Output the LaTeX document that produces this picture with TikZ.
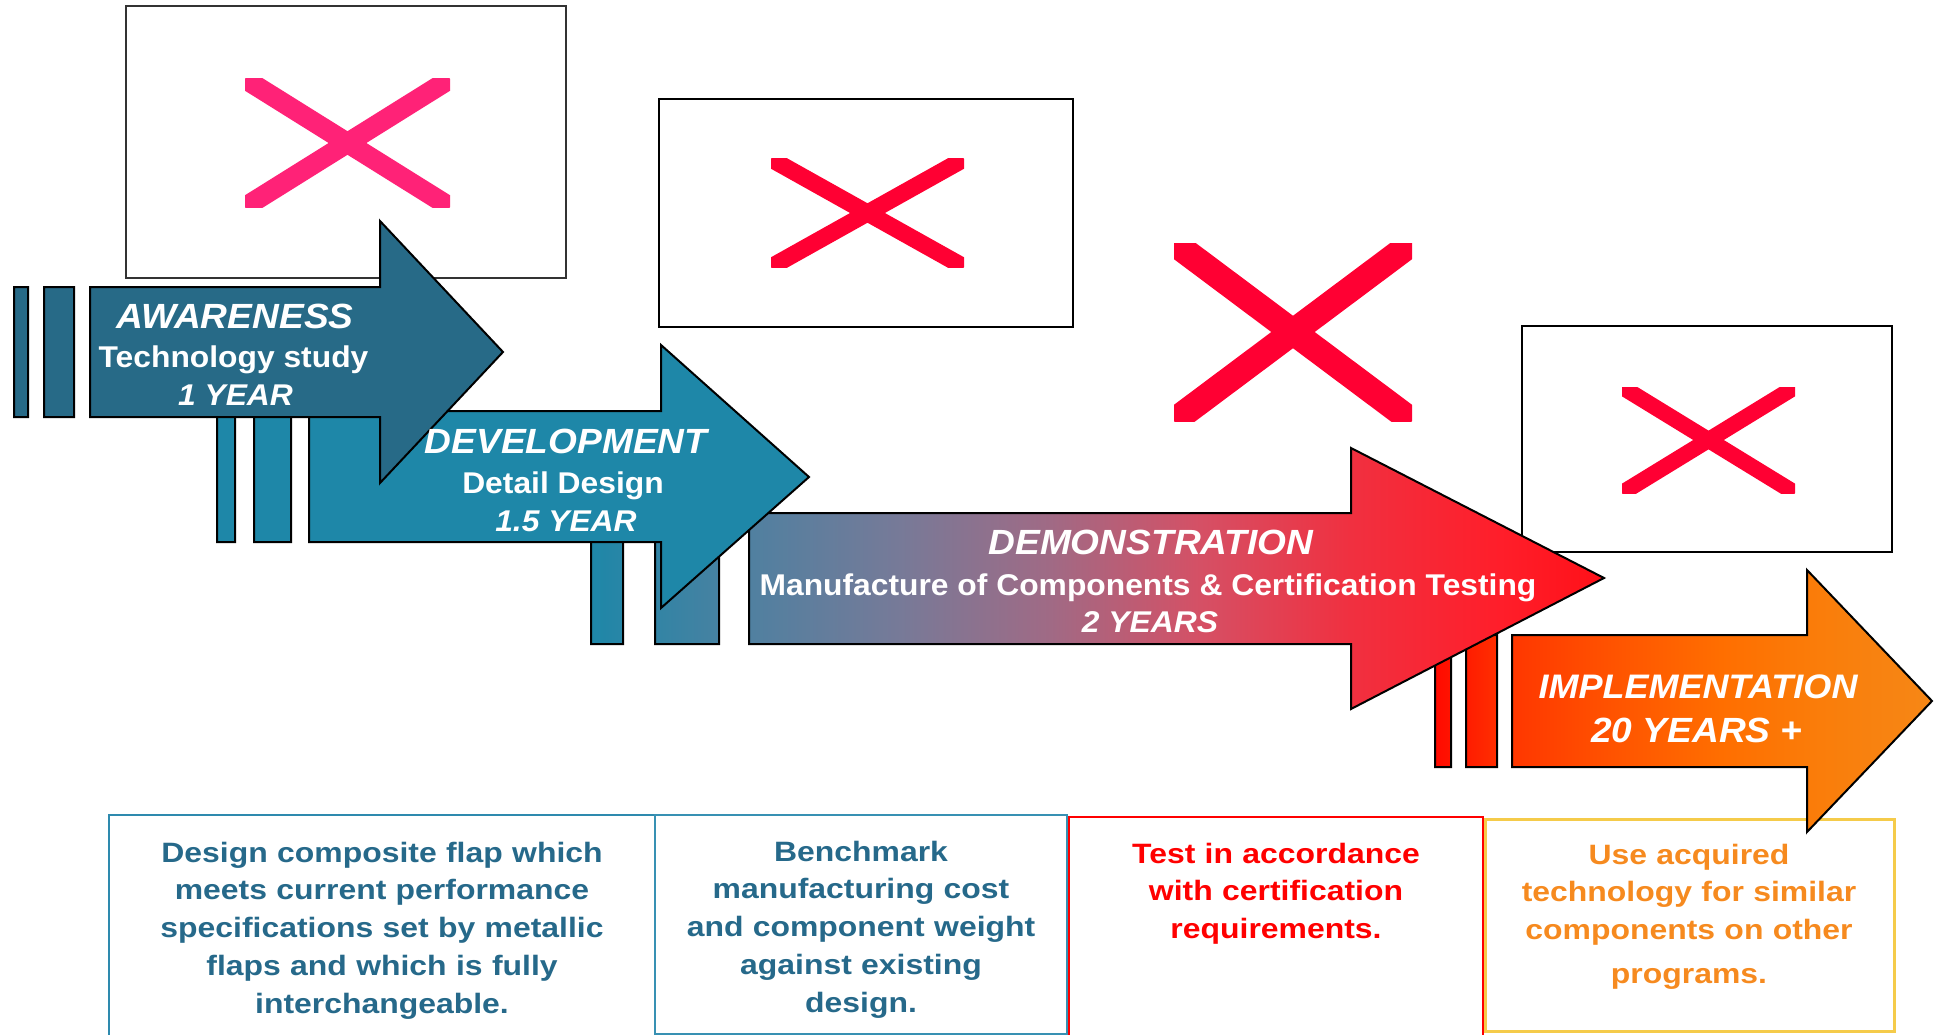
\documentclass[tikz,border=0pt]{standalone}
\usepackage{fontspec}
\setmainfont{Liberation Sans}
\newfontfamily\arrowfont{Liberation Sans}[FakeStretch=1.06]
\newfontfamily\boxfont{Liberation Sans}[FakeStretch=1.14]

\definecolor{aone}{RGB}{39,106,135}
\definecolor{atwo}{RGB}{30,135,168}
\definecolor{dA}{RGB}{30,135,168}
\definecolor{dB}{RGB}{80,128,160}
\definecolor{dC}{RGB}{119,122,152}
\definecolor{dD}{RGB}{160,106,133}
\definecolor{dE}{RGB}{213,80,101}
\definecolor{dF}{RGB}{240,48,64}
\definecolor{dG}{RGB}{255,30,42}
\definecolor{dH}{RGB}{255,16,24}
\definecolor{iA}{RGB}{255,10,0}
\definecolor{iB}{RGB}{255,28,0}
\definecolor{iC}{RGB}{255,55,0}
\definecolor{iD}{RGB}{255,85,0}
\definecolor{iE}{RGB}{255,110,0}
\definecolor{iF}{RGB}{250,125,10}
\definecolor{iG}{RGB}{246,135,22}
\definecolor{pinkx}{RGB}{255,34,119}
\definecolor{redx}{RGB}{255,0,51}
\definecolor{bluetxt}{RGB}{38,105,138}
\definecolor{blueline}{RGB}{46,138,174}
\definecolor{blueline2}{RGB}{56,145,179}
\definecolor{redtxt}{RGB}{255,0,0}
\definecolor{orangetxt}{RGB}{246,138,31}
\definecolor{yellowline}{RGB}{245,203,74}

\pgfdeclarehorizontalshading{demoshade}{100bp}{color(0bp)=(dA); color(25bp)=(dA); color(32.85bp)=(dB); color(40.25bp)=(dC); color(47.65bp)=(dD); color(55.06bp)=(dE); color(62.46bp)=(dF); color(69.87bp)=(dG); color(75bp)=(dH); color(100bp)=(dH)}
\pgfdeclarehorizontalshading{implshade}{100bp}{color(0bp)=(iA); color(25bp)=(iA); color(28.1bp)=(iB); color(32.75bp)=(iC); color(43.6bp)=(iD); color(53.7bp)=(iE); color(63.7bp)=(iF); color(75bp)=(iG); color(100bp)=(iG)}

\tikzset{
  arrowline/.style={draw=black, line width=2pt, line join=miter},
  imgbox/.style={draw=black, line width=2.2pt, fill=white},
  xmk/.style={line cap=butt},
  ttl/.style={font={\arrowfont\bfseries\itshape\fontsize{35}{40}\selectfont}, text=white, anchor=base, inner sep=0pt},
  sub/.style={font={\arrowfont\bfseries\fontsize{30}{36}\selectfont}, text=white, anchor=base, inner sep=0pt},
  subit/.style={font={\arrowfont\bfseries\itshape\fontsize{30}{36}\selectfont}, text=white, anchor=base, inner sep=0pt},
  boxtxt/.style={font={\boxfont\bfseries\fontsize{28}{37.75}\selectfont}, anchor=base, inner sep=0pt, align=center, text width=#1},
}

\begin{document}
\begin{tikzpicture}[x=1pt,y=-1pt]
\useasboundingbox (0,0) rectangle (1937,1035);

% bottom description boxes
\draw[blueline, line width=2.5pt] (109,1045) -- (109,815) -- (655,815) -- (655,1045);
\draw[blueline2, line width=2.5pt] (655,1034) -- (655,815) -- (1067,815) -- (1067,1034) -- cycle;
\draw[redtxt, line width=2.5pt] (1069,1045) -- (1069,817) -- (1483,817) -- (1483,1045);
\draw[yellowline, line width=3pt] (1485,819) rectangle (1894,1031);

\node[boxtxt=540, text=bluetxt] (t1) at (382,862) {Design composite flap which\\meets current performance\\specifications set by metallic\\flaps and which is fully\\interchangeable.};
\node[boxtxt=400, text=bluetxt] (t2) at (861,861) {Benchmark\\manufacturing cost\\and component weight\\against existing\\design.};
\node[boxtxt=400, text=redtxt] (t3) at (1276,863) {Test in accordance\\with certification\\requirements.};
\node[boxtxt=400, text=orangetxt] (t4) at (1689,864) {Use acquired\\technology for similar\\components on other\\[6.5pt]programs.};

% picture placeholders
\draw[imgbox, draw=black!80] (126,6) rectangle (566,278);
\draw[imgbox] (659,99) rectangle (1073,327);
\draw[imgbox] (1522,326) rectangle (1892,552);

\begin{scope}
  \clip (245,79) rectangle (450,207);
  \draw[xmk, pinkx, line width=20pt] (245,79) -- (450,207) (245,207) -- (450,79);
\end{scope}
\begin{scope}
  \clip (771,159) rectangle (964,267);
  \draw[xmk, redx, line width=17pt] (771,159) -- (964,267) (771,267) -- (964,159);
\end{scope}
\begin{scope}
  \clip (1174,243) rectangle (1412,421);
  \draw[xmk, redx, line width=26pt] (1174,243) -- (1412,421) (1174,421) -- (1412,243);
\end{scope}
\begin{scope}
  \clip (1622,387) rectangle (1795,493);
  \draw[xmk, redx, line width=16pt] (1622,387) -- (1795,493) (1622,493) -- (1795,387);
\end{scope}

% arrow 4 (implementation)
\shadedraw[shading=implshade, arrowline]
  (1435,635) rectangle (1451,767)
  (1466,635) rectangle (1497,767)
  (1512,635) -- (1807,635) -- (1807,570) -- (1932,701) -- (1807,832) -- (1807,767) -- (1512,767) -- cycle;

% arrow 3 (demonstration)
\shadedraw[shading=demoshade, arrowline]
  (591,513) rectangle (623,644)
  (655,513) rectangle (719,644)
  (749,513) -- (1351,513) -- (1351,448) -- (1604,578) -- (1351,709) -- (1351,644) -- (749,644) -- cycle;

% arrow 2 (development)
\filldraw[fill=atwo, arrowline]
  (217,411) rectangle (235,542)
  (254,411) rectangle (291,542)
  (309,411) -- (661,411) -- (661,345) -- (809,477) -- (661,608) -- (661,542) -- (309,542) -- cycle;

% arrow 1 (awareness)
\filldraw[fill=aone, arrowline]
  (14,287) rectangle (28,417)
  (44,287) rectangle (74,417)
  (90,287) -- (380,287) -- (380,221) -- (503,352) -- (380,483) -- (380,417) -- (90,417) -- cycle;

% arrow texts
\node[ttl] (a1t) at (235,328) {AWARENESS};
\node[sub] (a1s) at (233.5,367) {Technology study};
\node[subit] (a1y) at (235.5,405) {1 YEAR};

\node[ttl] (a2t) at (566,453) {DEVELOPMENT};
\node[sub] (a2s) at (563,493) {Detail Design};
\node[subit] (a2y) at (566,531) {1.5 YEAR};

\node[ttl] (a3t) at (1151,554) {DEMONSTRATION};
\node[sub] (a3s) at (1148,595) {Manufacture of Components \& Certification Testing};
\node[subit] (a3y) at (1150,632) {2 YEARS};

\node[ttl, font={\arrowfont\bfseries\itshape\fontsize{34}{40}\selectfont}] (a4t) at (1698,698) {IMPLEMENTATION};
\node[ttl] (a4y) at (1697,742) {20 YEARS +};
\end{tikzpicture}
\end{document}
